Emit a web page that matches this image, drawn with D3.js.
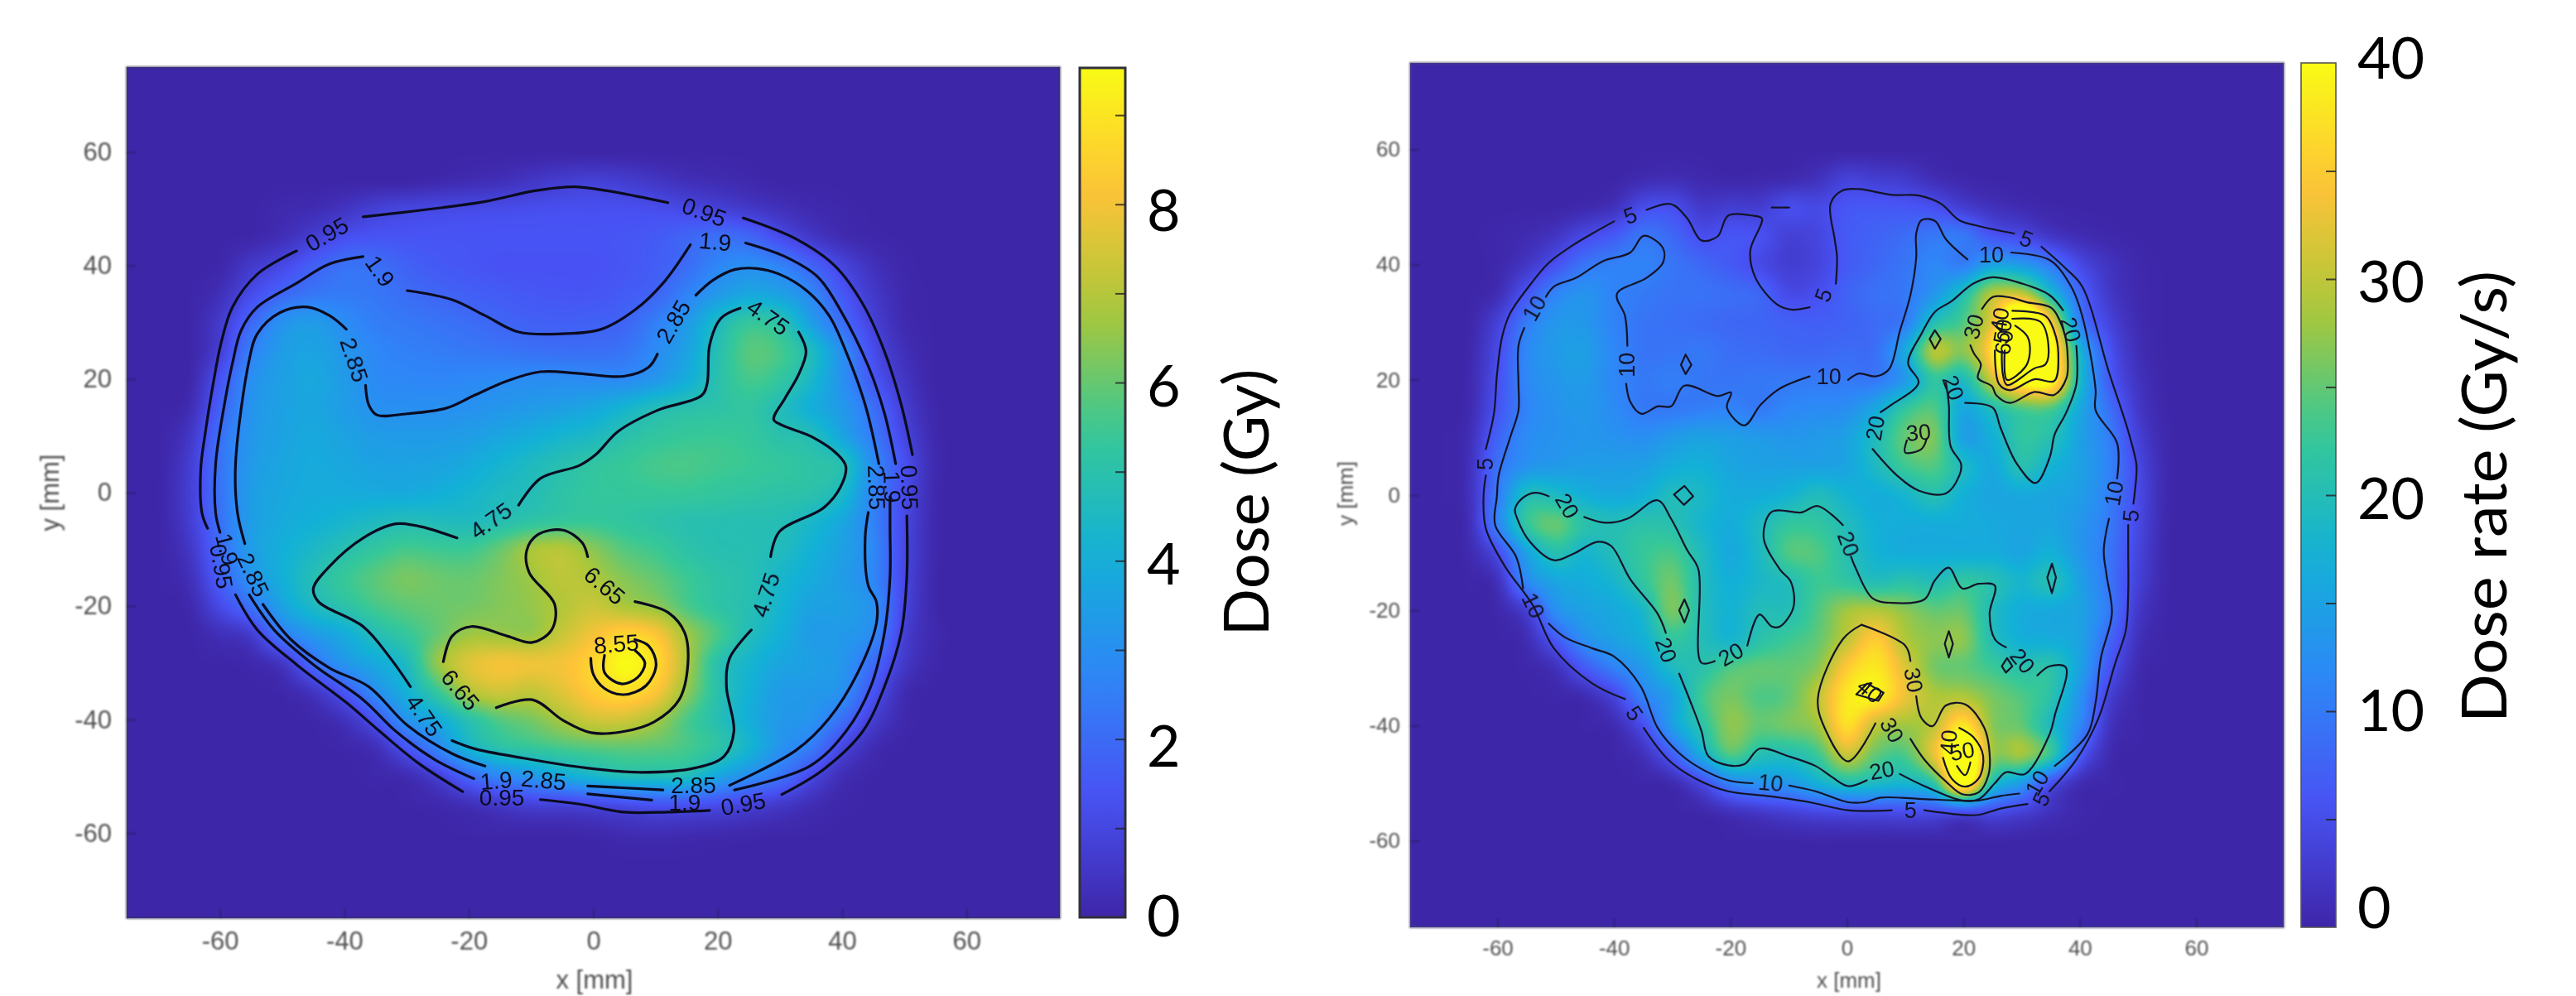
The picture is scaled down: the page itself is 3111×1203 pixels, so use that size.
<!DOCTYPE html>
<html><head><meta charset="utf-8">
<script src="https://cdnjs.cloudflare.com/ajax/libs/d3/7.9.0/d3.min.js"></script>
<style>html,body{margin:0;padding:0;background:#fff}svg{display:block}</style>
</head><body><svg id="c" width="3111" height="1203"></svg>
<script>
// ---------- data (mm, Gy, Gy/s) ----------
const gridX = [-65,-60,-55,-50,-45,-40,-35,-30,-25,-20,-15,-10,-5,0,5,10,15,20,25,30,35,40,45,50,55];
const gridY = [55,50,45,40,35,30,25,20,15,10,5,0,-5,-10,-15,-20,-25,-30,-35,-40,-45,-50,-55,-60];
const parulaStops = ["#3E26A8","#4852F4","#2E87F7","#12B1D6","#37C897","#ABC739","#FEC338","#F9FB15"];
const axisTicks = [-60,-40,-20,0,20,40,60];
const doseMax = 9.53, rateMax = 40;
const doseBarTicks = [1,2,3,4,5,6,7,8,9];
const rateBarTicks = [5,10,15,20,25,30,35];
const doseBarLabels = [0,2,4,6,8];
const rateBarLabels = [0,10,20,30,40];

const doseGrid = [
[0,0,0,0,0,0,0,0,.1,.2,.3,.5,.7,.8,.7,.5,.3,.2,.1,0,0,0,0,0,0],
[0,0,0,.1,.2,.45,.8,.98,1.05,1.1,1.15,1.2,1.25,1.25,1.25,1.2,1.05,.85,.6,.35,.15,.05,0,0,0],
[0,0,.05,.3,.75,1.25,1.4,1.4,1.4,1.4,1.4,1.4,1.4,1.4,1.45,1.55,1.85,2.1,1.9,1.2,.6,.2,.05,0,0],
[0,.05,.6,1.05,1.7,2.15,2.1,1.75,1.55,1.45,1.35,1.35,1.35,1.35,1.45,1.65,2.05,2.7,2.95,2.6,1.8,.95,.35,.05,0],
[0,.3,1.15,1.9,2.3,2.4,2.3,2.05,1.85,1.7,1.6,1.5,1.45,1.45,1.6,1.85,2.6,3.3,3.75,3.55,2.75,1.5,.6,.1,0],
[0,.65,1.9,3.05,3.35,2.9,2.5,2.35,2.2,2.05,1.85,1.75,1.7,1.75,1.85,2.5,3.3,4.5,5.3,5.0,3.5,2.05,.85,.15,0],
[0,.8,2.5,3.4,3.6,3.2,2.75,2.55,2.45,2.35,2.25,2.15,2.1,2.1,2.25,2.85,3.6,4.85,5.8,5.6,4.6,2.95,1.2,.3,0],
[.05,1.35,2.95,3.5,3.75,3.35,2.85,2.75,2.7,2.75,2.85,2.9,2.9,2.85,2.85,3.25,3.95,4.95,5.6,5.3,4.4,3.05,1.5,.5,0],
[.2,1.7,3.1,3.55,3.7,3.4,3.05,3,3,3.05,3.2,3.35,3.5,3.75,4.2,4.7,4.95,5.1,5.25,4.75,4,3.3,2.1,.75,.05],
[.5,2.1,3.2,3.6,3.8,3.6,3.4,3.35,3.35,3.45,3.7,3.95,4.25,4.5,4.95,5.25,5.4,5.45,5.35,5.0,4.75,3.7,2.4,1.0,.1],
[.7,2.2,3.3,3.7,3.85,3.75,3.6,3.6,3.65,3.85,4.2,4.55,4.9,5.2,5.4,5.6,5.65,5.55,5.45,5.3,5.1,4.8,2.9,1.3,.15],
[.75,2.2,3.4,3.75,3.9,3.9,3.85,3.85,4,4.25,4.55,4.75,5.1,5.3,5.35,5.4,5.4,5.3,5.2,5.1,5,4.45,2.7,1.2,.1],
[.7,2.15,3.4,3.85,4.05,4.3,4.55,4.75,4.65,4.6,4.85,5.15,5.35,5.4,5.25,5.1,4.95,4.9,4.85,4.8,4.4,3.75,2.6,1.1,.1],
[.5,2,3.4,4,4.45,4.9,5.3,5.6,5.5,5.5,6,6.75,6.95,6.4,5.8,5.5,5.1,4.9,4.85,4.65,4.1,3.55,2.75,1.05,.1],
[.3,1.7,3.1,4,4.8,5.4,5.85,6.2,6.05,6,6.3,6.65,7.1,6.85,6.35,5.95,5.5,5.1,4.9,4.35,3.9,3.4,2.7,1.05,.05],
[.1,1.1,2.2,3.6,4.5,5.05,5.6,5.9,6.05,6.15,6.35,6.55,6.95,7.3,6.85,6.5,5.7,5.15,4.85,4.25,3.6,3.5,3,1,.05],
[0,.3,.7,2.4,3.3,3.9,4.75,5.35,6,6.65,6.65,6.6,7.3,8,8.6,8.2,6.7,5.65,4.7,4.05,3.4,3.3,2.8,.8,.1],
[0,.02,.1,.55,2.05,3.2,3.85,4.6,6.55,7.6,8,7.9,8,8.6,9.5,8.8,6.9,5,4.3,3.7,3.5,3.2,2,.6,.05],
[0,0,0,.05,.5,1.5,2.95,4.1,5.4,6.9,7.4,7.2,7.7,8.4,8.8,8.2,6.5,5,4.1,3.4,3.3,3,1.4,.2,0],
[0,0,0,0,.05,.4,1.4,3.1,3.9,5,5.8,6.2,6.8,7.4,7.4,6.8,5.7,4.85,4,3.3,3.1,2.1,.75,.1,0],
[0,0,0,0,0,.05,.3,1.4,2.7,4.2,5,5.3,5.6,5.8,5.9,5.85,5.6,5.1,4.2,3.1,2.4,1,.2,0,0],
[0,0,0,0,0,0,.05,.2,.8,1.9,2.7,3.2,3.8,4.3,4.7,4.7,4.65,3.7,2.9,2.2,1.1,.25,.02,0,0],
[0,0,0,0,0,0,0,.02,.1,.3,.6,.85,.9,1.05,1.2,1.4,1.35,1.2,.9,.6,.25,.05,0,0,0],
[0,0,0,0,0,0,0,0,0,.02,.05,.05,.05,.1,.2,.25,.2,.15,.1,.05,.02,0,0,0,0]];

const rateGrid = [
[0,0,0,0,0,0,.7,1,.5,.2,.3,.6,1.5,3.5,3,2.5,1,.3,0,0,0,0,0,0,0],
[0,0,0,0,.5,1.5,4.9,5.1,2.6,3,3,4.95,4.5,6,6.3,6,5.2,3,1.5,.7,.2,0,0,0,0],
[0,.2,.7,2,4.6,6.5,9.5,8,5.2,6,5.4,3.5,4.2,6.5,7.5,8.5,9.8,9.7,6,4.6,2.2,.9,.3,0,0],
[0,.3,2.2,5.6,9.4,10.7,10.9,9.5,8,6.5,4.7,3.2,4,6.5,8,9.5,11.5,10.5,15,14,10,4.6,1.8,.4,0],
[0,1,6,11,13,11,10,9.3,9.2,8.6,7.8,4.7,5.3,7.5,9,9.9,13.5,20,29,30,19,8,2.5,.5,0],
[.1,3.5,10,13.5,13.5,11,9.5,9,8.5,8,7.8,7.2,7,7.5,8.5,10.3,20,24,33,55,35,11,4,.8,0],
[.3,4.7,11.5,14,14.5,11.5,9.5,9.5,9.8,8.8,8.5,8,8,8.5,9,16,29,27,38,70,44,18,6,1.2,0],
[.4,5.3,11.5,13.5,14,11.5,10,10.5,9.7,9.5,9.8,9.9,10,10,10,14,22,19.5,31,43,41,19,7,1.8,.1],
[.5,5.8,11,13,13.7,12,10,10,10.5,11,10,11.5,12,12.5,16,22,24,16,20,24,24,16,9,2.5,.1],
[1,7.5,12,13,13.5,13,12.5,14,15,14.5,14,13.5,14,15,19.5,25,26,15,17,22,20.5,15,10.5,3.5,.3],
[1.2,9,13,14,14.5,14.5,14.8,16.5,17,15.5,15,15,15,15.5,19,23,24,19,16,20.5,17.5,15,11,4.5,.4],
[1.3,10,19.5,19,17,16,17,19.5,18.5,16.5,16.5,17.5,19.5,17.5,16.5,18,20.5,17,15.5,16,15.5,14.5,10.5,4.8,.4],
[1,11,22,25,21,20,21,20.5,18,16.5,19,22,22,19.5,17,16.5,16.5,16.5,16,15.5,15.5,13.5,10,4.5,.3],
[.5,5,15,20.5,18,20,22.5,23.5,19.5,16,19,24,24,20.5,17.5,16.5,16.5,16.5,16.5,15.5,17,13.5,9.5,4,.2],
[.1,1.5,11.5,15.5,16.5,18,22,25.5,19.8,17,18.5,20,23,22,20,21,20,22,20.5,18,20,15,9.5,3.5,.2],
[0,.3,3.5,12.5,15,16,18.5,26,20,17.5,19.8,20.2,24,28,29,27,25,25,19.5,16.5,16,15,10,2.5,.1],
[0,0,1,6.5,12.5,15,17,22,20,18,21,23,25,30,35,29,27,27,20,17,16.5,15,8,1.5,.1],
[0,0,.2,1.5,6.5,10.7,14,19,21,24,25,25,27,35,38,32,26,25,23,21,21,15,6,.8,0],
[0,0,0,.2,.8,4,10.8,15,23,26,24,25,30,38,39,33,29,29,26,24,21,13,3.5,.3,0],
[0,0,0,0,.1,.8,5.2,14.5,21,27,25,26,28,37,30,28,30,38,27,25,19,11.5,2,.2,0],
[0,0,0,0,0,.1,1.5,7,16.5,24,20.5,20,23,30.5,25,24,33,48,28,28,22,7,.8,0,0],
[0,0,0,0,0,0,.1,.7,4.5,11,13,13.5,17,20,19,18,22,42,20,14,5.5,1,.2,0,0],
[0,0,0,0,0,0,0,0,.3,1.5,2.5,3.5,4.5,5,5,5.1,5.2,5.5,5,3.5,1.5,.3,0,0,0],
[0,0,0,0,0,0,0,0,0,0,.1,.1,.2,.2,.2,.2,.2,.2,.2,.1,0,0,0,0,0]];

const doseContourLines = [
// 0.95
[[-37,48.6],[-24.5,50.2],[-17.4,51.3],[-9.4,53.2],[-3.1,53.9],[2.2,53.2],[12,51.1]],
[[24.1,48.4],[32.6,44.7],[38.8,40],[43.3,33.3],[46.8,24.9],[49.5,15.5],[51.3,6.7]],
[[-47.7,42.6],[-54,38.5],[-58,32.7],[-59.8,26.5],[-61.1,19.2],[-62.4,10.3],[-63.1,4.1],[-62.9,-3.6],[-62,-6.3]],
[[-57.5,-18],[-54,-24.2],[-47.7,-30.3],[-39.7,-37],[-34.3,-42.1],[-28.1,-47.7],[-21,-52.7]],
[[-8.5,-54.1],[-2.2,-54.9],[4.9,-56.3],[12,-56.3],[18.7,-56]],
[[30.3,-53.2],[37,-48.8],[43.3,-42.1],[46.8,-34.2],[49.5,-24.7],[50.4,-14.7],[50.4,-4.1]],
// 1.9
[[-37,41.6],[-42.4,40.3],[-47.7,36.9],[-54,32.7],[-56.6,28.6],[-58,22.8],[-59.3,15.5],[-60.7,5.1],[-60.7,-3.6],[-60,-7]],
[[-55.3,-18],[-51.3,-24.2],[-45,-30.3],[-37,-36.5],[-31.7,-42.1],[-25.4,-47.1],[-19.2,-50.4]],
[[-0.9,-53.1],[9.4,-54.2]],
[[22.7,-52.4],[34.8,-48.2],[40.6,-42.1],[44.6,-34.2],[46.8,-24.7],[47.7,-14.7],[47.7,-6.3],[47.7,-0.7]],
[[-29.9,35.6],[-22.7,34],[-17.4,31.2],[-12,28.3],[-4.9,28],[1.3,28.8],[6.7,32.2],[11.2,36.9],[15.6,43.7]],
[[24.5,44],[30.8,41.6],[36.1,38],[39.7,32.2],[44.2,22.3],[46.8,14],[48.6,5.1]],
// 2.85
[[-39.7,28.8],[-42.4,31.2],[-45.9,32.7],[-50.4,31.7],[-54,28],[-55.3,23.4],[-57.5,5.1],[-57.2,-3.5],[-56,-9]],
[[-36.6,18.9],[-36.1,15.5],[-34.8,13.7],[-29.9,13.9],[-23.6,14.9],[-19.2,17.1],[-13.8,19.7],[-8.5,21.3],[-2.2,21],[4.9,20.5],[8.9,22.1],[10.3,24.4]],
[[16.5,34.8],[19.2,37.4],[22.7,39.3],[26.3,39.5],[29.9,38.5],[34.3,35.6],[37.9,31.2],[40.6,24.9],[43.7,15.5],[45.9,5.1]],
[[-53.1,-19.7],[-48.6,-25.9],[-42.4,-30.9],[-36.1,-34.2],[-29.9,-41],[-22.7,-46],[-17.4,-48.2]],
[[-0.9,-51.7],[11.2,-52.4]],
[[21.9,-51.6],[32.6,-45.4],[37.9,-39.8],[42.4,-32],[45.5,-23.1],[45.5,-19.2],[44.2,-16.4],[43.7,-8],[44.2,-3.5]],
// 4.75
[[33,28.3],[34.2,24.9],[33,20.8],[30.8,16.6],[29,12.9],[30.3,11.9],[35.2,9.8],[39.3,6.7],[40.6,4.6],[39.7,0.9],[37,-2.7],[29.9,-6.9],[28.5,-11.3]],
[[25.4,-24.2],[21.9,-29.2],[21.4,-34.2],[22.6,-42.1],[21,-46.5],[16.5,-48.5],[7.6,-49.3],[-1.3,-48.5],[-11.2,-46.8],[-19.2,-45.1],[-22.7,-43.7]],
[[-29.4,-34.2],[-32.6,-29.2],[-37,-23.6],[-44.2,-19.2],[-45,-16.9],[-42.4,-13],[-37,-8],[-31.7,-5.5],[-27.7,-6],[-21.9,-8]],
[[-12,-2.2],[-8.5,2.5],[-2.2,4.8],[0.4,6.7],[4,10.8],[10.3,14.5],[17.4,17.1],[18.3,19.2],[18.7,26],[20.5,30.7],[23.6,32.5]],
// 6.65
[[6.7,-19.2],[12,-21.1],[14.7,-24.7],[15.2,-30.3],[13.8,-36.5],[9.8,-40.4],[4.9,-42.1],[-0.4,-42.3],[-4.9,-40.1],[-9.8,-36.5],[-15.6,-37.9]],
[[-24.1,-29.8],[-22.7,-25.3],[-19.6,-23.6],[-13.8,-25.3],[-9.8,-26.4],[-6.7,-24.2],[-6.2,-19.7],[-10.3,-14.1],[-10.7,-10.2],[-8.9,-7.4],[-4.9,-6.6],[-1.8,-8.8],[-0.9,-11.3]],
// 8.55
[[-0.4,-29.2],[0,-32],[1.8,-34.5],[4.9,-35.6],[8.5,-34],[10.1,-30.3],[8.9,-27],[6.7,-25.9]],
[[1.8,-28.7],[1.8,-31.7],[4.5,-33.7],[7.1,-32.6],[8.3,-30],[6.7,-27.8]]
];
// text, x, y, angle
const doseContourLabels = [
["0.95",-42.8,45.5,-30],["0.95",17.8,49.4,20],["1.9",-34.3,39,55],["1.9",19.6,44.2,5],
["2.85",-38.4,23.4,72],["2.85",12.9,30.1,-60],["4.75",28.1,30.9,35],
["2.85",45.5,0.9,88],["1.9",48,1,88],["0.95",50.8,0.9,88],
["0.95",-59.8,-13,80],["1.9",-58.9,-10,75],["2.85",-54.7,-14.5,65],
["4.75",-16.5,-4.9,-35],["6.65",1.8,-16.4,40],["8.55",3.7,-26.7,-5],["6.65",-21.4,-34.8,50],
["4.75",-27.2,-39.3,55],["4.75",27.7,-18,-72],
["2.85",-8,-50.7,5],["1.9",-15.6,-50.8,-5],["0.95",-14.7,-53.8,0],
["2.85",16.1,-51.6,0],["1.9",14.7,-54.6,0],["0.95",24.1,-54.9,-10]
];

const rateContourLines = [
// 5
[[-40,47.5],[-43.7,45.4],[-47,43.4],[-51.2,40.3],[-55,35.7],[-57.8,31.6],[-59.2,27.5],[-60.1,20.8],[-60.6,14.2],[-62,8]],
[[-62,3.4],[-62.4,-0.2],[-62,-5.8],[-58.7,-12.4],[-54,-19],[-50.3,-26.6],[-43.7,-32.7],[-38.1,-35.4]],
[[-34.9,-40.4],[-30.7,-45.9],[-26,-49.2],[-20.4,-51.4],[-13.8,-52.2],[-6.4,-53.3],[0.2,-54.7],[7.7,-54.7]],
[[13.3,-54.7],[19.8,-55.5],[22.6,-55.5],[26.4,-54.4],[31,-53.6]],
[[34.8,-51.4],[39.4,-45.9],[43.2,-38.7],[46,-29.4],[47.9,-23.4],[48.3,-16.8],[48.3,-9.6],[48.3,-5.2]],
[[49.2,-1.5],[49.7,3.4],[49.7,5.4],[48.3,11.1],[45,21.3],[40.4,36.2],[37.6,39.3],[33.4,43.1]],
[[28.7,45.4],[22.6,46.7],[19.3,47.7],[16.1,50.6],[12.3,52],[7.7,52.1],[2.1,53.1],[-0.7,52.9],[-2.8,50.6],[-2.1,44.4],[-1.7,41.3],[-1.9,36.7]],
[[-6.4,32.6],[-9.6,32.2],[-12,33.1],[-15.7,37.7],[-16.6,42.4],[-14.6,48],[-16.2,48.5],[-20.4,48.5],[-22.2,44.9],[-25,44.2],[-27.4,48],[-30.2,50.5],[-34.4,49.5]],
[[-12.9,49.9],[-9.9,49.9]],
// 10
[[-55.4,29],[-56.4,25.9],[-56.4,19.3],[-56.4,14.7],[-57.8,10.1],[-59.8,3.4],[-60.1,-0.2],[-60.4,-5.2],[-56.8,-10.7],[-55.6,-16.2]],
[[-51.2,-22.3],[-48.4,-24.7],[-43.7,-26.6],[-40,-28],[-35.4,-33.2],[-32.5,-40.4],[-28.8,-44.8],[-25,-47.5],[-20.4,-49.5],[-16.2,-50]],
[[-9.9,-50.4],[-5.4,-51.4],[0.2,-53.3],[3,-53.3],[5.8,-52.5],[12.3,-52.7],[18.9,-53],[22.6,-53],[26.4,-52.2],[29.6,-51.8]],
[[35.7,-47],[41.3,-41.5],[42.7,-36],[43.6,-28.3],[45.5,-20.6],[44.6,-14],[44.1,-9.6],[45,-4.1]],
[[46.4,2.9],[46.4,9],[42.7,14.7],[42.7,18.3],[40.4,31.1],[38.5,36.2],[34.8,40.8],[28.2,42.1]],
[[20.7,40.9],[17,44.4],[15.1,47.6],[12.8,47.7],[11.9,45.4],[11.9,41.3],[10.9,34.7],[9.1,28.5],[7.2,21.8],[4.9,20.6],[2.1,21.1],[0.2,20]],
[[-6.4,20.6],[-11.5,18.5],[-14.8,15.7],[-17.6,12.1],[-20.6,15.2],[-19.9,17.8],[-22.2,17.2],[-27.9,19],[-30.2,15.4],[-32.5,15.4],[-35.3,14.1],[-37.2,16.2],[-37.9,19.3]],
[[-37.7,25.9],[-38.1,31.1],[-39.5,34.9],[-34.4,37.7],[-31.6,40.3],[-31.6,42.9],[-34.9,45],[-37.2,42.1],[-41.9,40.6],[-46.5,37.7],[-50.3,36.2],[-51.7,34.4]],
// 20
[[20.3,16],[25,15.2],[26.4,11.6],[29.2,5.4],[32.4,2.1],[34.8,6.5],[35.7,10.6],[37.6,14.2],[39.4,19.3],[39.4,25.9]],
[[37.1,32.1],[34.8,34.7],[30.1,36.7],[25,37.8],[21.7,36.7],[17.9,33.6],[15.1,31.8],[12.8,28],[10.5,22.9],[12.3,19.5],[7.7,15.7],[5.8,14.4]],
[[4.4,8],[8.6,3.4],[12.3,0.8],[17,0.3],[19.3,3.4],[19.6,5.4],[17.8,8.5],[17.5,15.7],[17,19.5]],
[[-51.2,-0.2],[-53.6,0.4],[-55.9,-0.7],[-57,-2.5],[-56.6,-4.1],[-54.5,-8],[-50.3,-11.3],[-47,-10.2],[-42.8,-8.1],[-40.5,-8.8],[-37.2,-14.6],[-32.5,-20.6],[-31.1,-23.9]],
[[-28.8,-31],[-25,-40.9],[-23.8,-45.3],[-20.4,-46.9],[-17.6,-46.7],[-15,-44],[-10.1,-45.3],[-5.4,-47],[-2.6,-48.9],[0.2,-50.5],[3.4,-49.5]],
[[9.1,-48.4],[13.3,-50.5],[19.8,-53],[22.6,-52.8],[25.4,-50],[27.3,-48.1],[30.6,-48.4],[34.8,-41.5],[35.7,-38.2],[37.6,-29.9],[34.8,-29.7],[32.7,-31.3]],
[[27.3,-26.4],[25.4,-25],[24.5,-20.6],[25.4,-15.7],[22.6,-15.4],[19.8,-16.2],[17.5,-12.6],[15.1,-14.8],[13.3,-18.1],[7.7,-18.7],[4.4,-17.9],[1.6,-12.9],[0.7,-10.7]],
[[-0.7,-5.2],[-5,-1.9],[-7.8,-3],[-12.9,-2.9],[-14.3,-7.4],[-11.5,-12.9],[-9.6,-15.1],[-9.2,-19.5],[-11.5,-22.8],[-12.9,-22.8],[-15,-20.7],[-17.1,-26.1]],
[[-22.7,-28.8],[-25,-29.1],[-25.5,-12.9],[-27.4,-9.6],[-30.2,-4.1],[-32.5,-0.9],[-37.7,-4.1],[-41.4,-4.8],[-45.1,-3.8]],
// 30
[[13.7,9.8],[12.8,8],[10,7.4],[10.3,9.5]],
[[2.5,-22.5],[10,-26.1],[10.9,-28.8]],
[[11.9,-34.9],[12.8,-38.7],[14.7,-40.1],[17,-36.5],[20.3,-36.3],[23.6,-40.4],[24.5,-44.8],[24.3,-48.6],[22.6,-51.6],[19.8,-51.9],[17,-49.7],[13.3,-45.9],[10.9,-42.3]],
[[4.9,-39.6],[0.2,-46.2],[-3.6,-40.9],[-5,-35.4],[-0.7,-25],[2.5,-22.5]],
[[23.2,32.3],[25.1,34.4],[28,34.3],[30.8,33.5],[35.1,32.5],[36.5,30.4],[37.5,27.5],[37.9,24.1],[37.7,20.3],[35.6,17.4],[32.2,17.9],[28,16],[25.6,17.4],[24.9,18.9],[22.5,20.3],[23,22.7],[21.8,24.6],[21.2,26]],
// 40
[[28.4,32],[34.1,31.1],[35.6,28.4],[36.3,24.6],[35.6,19.8],[32.2,20.1],[28,18.2],[26.1,19.3],[25.4,25.1]],
[[16.5,-45.6],[18,-49.2],[20.3,-50.6],[22.6,-49.2],[23.4,-45.3],[21.7,-42],[19.3,-40.4]],
// 50
[[28.4,30.6],[33.2,30.1],[34.6,26],[34.1,22.7],[32.2,22],[27.5,19.1],[26.8,20.8],[26.6,25.1]],
[[18.9,-47],[20.3,-48.6],[21.2,-46.4]],
// 60
[[28.9,29.4],[31,27.5],[31.4,24.6],[30.6,22.2],[27.5,20],[27.1,25.1]]
];
const rateContourLoops = [
[[-27.7,24.4],[-26.7,22.6],[-27.7,21],[-28.5,22.6]],
[[-27.9,1.6],[-26.4,-0.2],[-28,-1.7],[-29.7,0.1]],
[[35.2,-11.9],[35.9,-14.3],[35.2,-17],[34.4,-14.3]],
[[27.5,-28.3],[28.4,-29.7],[27.3,-30.8],[26.6,-29.7]],
[[-27.9,-18.1],[-27.1,-20],[-27.9,-22.1],[-28.8,-20]],
[[17.5,-23.6],[18.2,-25.8],[17.5,-28.2],[16.8,-25.8]],
[[15.1,28.6],[16.1,27.1],[15.1,25.4],[14.2,27.1]],
[[1.6,-34.6],[5.4,-35.7],[6.3,-34.3],[3.5,-32.7]]
];
const rateContourLabels = [
["5",-37.2,48.5,-20],["5",30.8,44.4,20],["5",-4,34.7,-70],["10",24.8,41.7,0],["10",-53.6,32.4,-60],
["10",-37.7,22.6,-90],["10",-3.1,20.6,0],["5",-62,5.4,-90],["10",45.9,0.3,-80],["5",48.8,-3.6,-85],
["20",4.9,11.6,-80],["30",12.3,10.8,-5],["20",-48.1,-1.9,60],["10",-53.9,-19.2,65],["5",-36.5,-37.9,55],
["20",-31.1,-26.9,70],["20",-19.9,-27.7,-30],["20",0.2,-8.5,70],["30",11.4,-32.1,80],["40",3.9,-34,40],
["30",7.7,-40.8,60],["40",17.5,-42.9,-85],["50",19.8,-44.5,-10],["20",6,-47.8,-10],["10",-13.1,-50,5],
["5",10.9,-54.7,0],["10",32.7,-50,-60],["5",33.4,-52.8,-65],["20",30.1,-28.8,50],
["30",21.8,29.2,-75],["40",26.3,30.4,-80],["50",26.8,28.4,-80],["60",27,26.5,-80],["20",38.4,28.7,75],["20",18.2,18.6,70]
];

// ---------- drawing ----------
const svg = d3.select("#c");
const tickFont = "'Liberation Sans',Arial,sans-serif";
const labelFont = "Lato,'Open Sans',sans-serif";

function colorScale(max){
  const dom = parulaStops.map((_,i)=> i/(parulaStops.length-1)*max);
  return d3.scaleLinear().domain(dom).range(parulaStops).interpolate(d3.interpolateRgb).clamp(true);
}
function cubic(p0,p1,p2,p3,t){
  return p1+0.5*t*(p2-p0+t*(2*p0-5*p1+4*p2-p3+t*(3*(p1-p2)+p3-p0)));
}
function heatImage(grid, x, y, max){
  const [x0,x1]=x.range(), [y1,y0]=y.range();
  const w=x1-x0, h=y1-y0;
  const cv=document.createElement("canvas"); cv.width=w; cv.height=h;
  const ctx=cv.getContext("2d"), im=ctx.createImageData(w,h);
  const col=colorScale(max);
  const lut=d3.range(512).map(i=>d3.rgb(col(i/511*max)));
  const stepX=gridX[1]-gridX[0], stepY=gridY[0]-gridY[1];
  const at=(j,i)=> (j<0||j>=grid.length||i<0||i>=grid[0].length)?0:grid[j][i];
  for(let py=0;py<h;py++){
    const fy=(gridY[0]-y.invert(y0+py+.5))/stepY, j=Math.floor(fy), ty=fy-j;
    for(let px=0;px<w;px++){
      const fx=(x.invert(x0+px+.5)-gridX[0])/stepX, i=Math.floor(fx), tx=fx-i;
      const r=[-1,0,1,2].map(d=>cubic(at(j+d,i-1),at(j+d,i),at(j+d,i+1),at(j+d,i+2),tx));
      const v=Math.max(0,Math.min(max,cubic(r[0],r[1],r[2],r[3],ty)));
      const c=lut[Math.round(v/max*511)], k=(py*w+px)*4;
      im.data[k]=c.r; im.data[k+1]=c.g; im.data[k+2]=c.b; im.data[k+3]=255;
    }
  }
  ctx.putImageData(im,0,0);
  return cv.toDataURL();
}
function panel(o){
  const g=svg.append("g");
  const [l,r]=o.x.range(), [b,t]=o.y.range();
  g.append("image").attr("x",l).attr("y",t).attr("width",r-l).attr("height",b-t)
    .attr("preserveAspectRatio","none").attr("href",heatImage(o.grid,o.x,o.y,o.max));
  const frame=g.append("g").style("filter","blur(.8px)");
  frame.append("rect").attr("x",l).attr("y",t).attr("width",r-l).attr("height",b-t)
    .attr("fill","none").attr("stroke",o.frame).attr("stroke-width",1.6);
  const ax=frame.append("g").attr("transform",`translate(0,${b})`)
    .call(d3.axisBottom(o.x).tickValues(axisTicks).tickFormat(d=>String(d)).tickSizeInner(-11).tickSizeOuter(0).tickPadding(o.padX));
  const ay=frame.append("g").attr("transform",`translate(${l},0)`)
    .call(d3.axisLeft(o.y).tickValues(axisTicks).tickFormat(d=>String(d)).tickSizeInner(-11).tickSizeOuter(0).tickPadding(o.padY));
  [ax,ay].forEach(a=>{
    a.select(".domain").remove();
    a.selectAll("line").attr("stroke","#1c1c40").attr("stroke-opacity",.55).attr("stroke-width",1.5);
    a.selectAll("text").attr("fill","#505050").attr("font-family",tickFont).attr("font-size",o.tickSize);
  });
  frame.append("text").attr("x",o.xLab[0]).attr("y",o.xLab[1]).attr("text-anchor","middle").attr("dominant-baseline","middle")
    .attr("fill","#505050").attr("font-family",tickFont).attr("font-size",o.tickSize).text("x [mm]");
  frame.append("text").attr("transform",`translate(${o.yLab[0]},${o.yLab[1]}) rotate(-90)`).attr("text-anchor","middle").attr("dominant-baseline","middle")
    .attr("fill","#505050").attr("font-family",tickFont).attr("font-size",o.tickSize).text("y [mm]");
  const lineOpen=d3.line().x(d=>o.x(d[0])).y(d=>o.y(d[1])).curve(d3.curveCatmullRom.alpha(.5));
  const lineLoop=d3.line().x(d=>o.x(d[0])).y(d=>o.y(d[1])).curve(d3.curveLinearClosed);
  const cg=g.append("g").attr("fill","none").attr("stroke",o.lineColor).attr("stroke-width",o.lineWidth)
    .attr("stroke-linejoin","round").attr("stroke-linecap","round").style("filter","blur(.7px)");
  cg.selectAll("path.o").data(o.lines).join("path").attr("class","o").attr("d",lineOpen);
  cg.selectAll("path.l").data(o.loops||[]).join("path").attr("class","l").attr("d",lineLoop);
  g.append("g").style("filter","blur(.6px)").selectAll("text").data(o.labels).join("text")
    .attr("transform",d=>`translate(${o.x(d[1])},${o.y(d[2])}) rotate(${d[3]})`)
    .attr("text-anchor","middle").attr("dominant-baseline","central")
    .attr("fill",o.lineColor).attr("font-family",tickFont).attr("font-size",o.labelSize).text(d=>d[0]);
}
function colorbar(o){
  const g=svg.append("g");
  const id=o.id, [b,t]=o.y.range();
  const grad=svg.append("defs").append("linearGradient").attr("id",id).attr("x1",0).attr("x2",0).attr("y1",1).attr("y2",0);
  const col=colorScale(o.max);
  grad.selectAll("stop").data(d3.range(0,1.0001,.05)).join("stop")
    .attr("offset",d=>d).attr("stop-color",d=>col(d*o.max));
  g.append("rect").attr("x",o.x0).attr("y",t).attr("width",o.x1-o.x0).attr("height",b-t)
    .attr("fill",`url(#${id})`).attr("stroke",o.border).attr("stroke-width",o.borderW).style("filter","blur(.7px)");
  const ax=g.append("g").attr("transform",`translate(${o.x1},0)`).style("filter","blur(.5px)")
    .call(d3.axisLeft(o.y).tickValues(o.ticks).tickSizeInner(o.tickLen).tickSizeOuter(0).tickFormat(""));
  ax.select(".domain").remove();
  ax.selectAll("line").attr("stroke","#222").attr("stroke-opacity",.8).attr("stroke-width",2);
  g.selectAll("text.t").data(o.labelValues).join("text").attr("class","t")
    .attr("x",o.labelX).attr("y",d=>o.labelY(d)).attr("dominant-baseline","central")
    .attr("font-family",labelFont).attr("font-size",o.labelSize).attr("fill","#000").text(d=>d);
  g.append("text").attr("transform",`translate(${o.title[0]},${o.title[1]}) rotate(-90)`)
    .attr("text-anchor","middle").attr("font-family",labelFont).attr("font-size",o.titleSize)
    .attr("textLength",o.titleLen).attr("lengthAdjust","spacingAndGlyphs").attr("fill","#000").text(o.text);
}

panel({grid:doseGrid,max:doseMax,
  x:d3.scaleLinear().domain([-75,75]).range([153,1280]),
  y:d3.scaleLinear().domain([-75,75]).range([1109,81]),
  lines:doseContourLines,labels:doseContourLabels,
  frame:"#3a3a55",lineColor:"#0b0b20",lineWidth:3.2,labelSize:28,tickSize:31,padX:16,padY:18,
  xLab:[718,1186],yLab:[63,595]});
panel({grid:rateGrid,max:rateMax,
  x:d3.scaleLinear().domain([-75,75]).range([1703,2758]),
  y:d3.scaleLinear().domain([-75,75]).range([1120,76]),
  lines:rateContourLines,loops:rateContourLoops,labels:rateContourLabels,
  frame:"#4a4a70",lineColor:"#141428",lineWidth:2.2,labelSize:27,tickSize:26,padX:16,padY:12,
  xLab:[2233,1186],yLab:[1627,596]});

colorbar({id:"gd",max:doseMax,x0:1304,x1:1359,y:d3.scaleLinear().domain([0,doseMax]).range([1108,82]),
  ticks:doseBarTicks,tickLen:12,border:"#30303a",borderW:3,
  labelValues:doseBarLabels,labelX:1385,labelSize:70,
  labelY:d3.scaleLinear().domain(doseBarLabels).range([1104,899,679,464,252]),
  title:[1532,607],titleSize:76,titleLen:323,text:"Dose (Gy)"});
colorbar({id:"gr",max:rateMax,x0:2779,x1:2821,y:d3.scaleLinear().domain([0,rateMax]).range([1120,76]),
  ticks:rateBarTicks,tickLen:12,border:"#555",borderW:1.6,
  labelValues:rateBarLabels,labelX:2847,labelSize:70,
  labelY:d3.scaleLinear().domain(rateBarLabels).range([1094,856,600,338,68]),
  title:[3027,600],titleSize:76,titleLen:546,text:"Dose rate (Gy/s)"});
</script></body></html>
